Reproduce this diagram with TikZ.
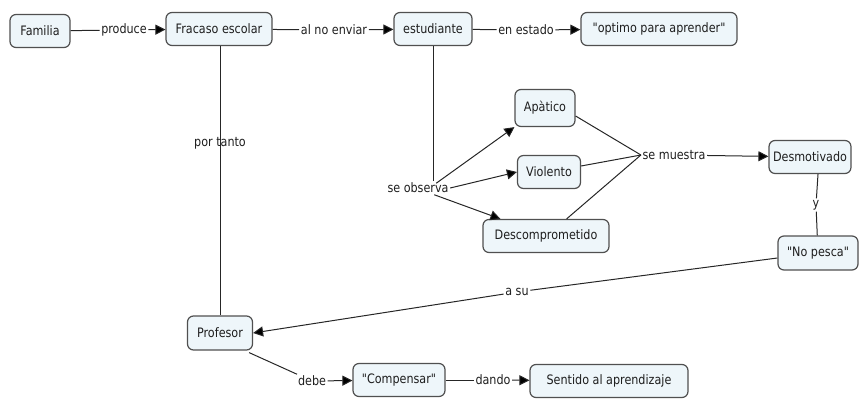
\documentclass[tikz,border=0pt]{standalone}
\usepackage{fontspec}
\setmainfont{DejaVu Sans}[FakeStretch=0.86, Ligatures=TeXOff]
\usetikzlibrary{arrows.meta}
\definecolor{boxfill}{RGB}{238,246,250}
\definecolor{boxline}{RGB}{80,80,80}
\definecolor{txt}{RGB}{30,30,30}
\begin{document}
\begin{tikzpicture}[x=1pt,y=-1pt,
  concept/.style={draw=boxline, fill=boxfill, line width=1.2pt, rounded corners=6pt,
     minimum height=33pt, inner xsep=4pt, text=txt, font=\fontsize{13}{15}\selectfont},
  lbl/.style={inner sep=1.5pt, text=txt, font=\fontsize{13}{15}\selectfont},
  conn/.style={draw=black!85, line width=1pt},
  arr/.style={conn, -{Triangle[length=10pt,width=10pt,fill=black]}}]
\useasboundingbox (0,0) rectangle (867,406);
% concepts
\node[concept, minimum width=60pt] (fam) at (40,31) {Familia};
\node[concept, minimum width=106pt] (fra) at (219,29) {Fracaso escolar};
\node[concept, minimum width=78pt] (est) at (433,29) {estudiante};
\node[concept, minimum width=156pt] (opt) at (659,29) {"optimo para aprender"};
\node[concept, minimum width=60pt, minimum height=37pt] (apa) at (545,108) {Apàtico};
\node[concept, minimum width=63pt] (vio) at (549,172) {Violento};
\node[concept, minimum width=126pt] (des) at (546,236) {Descomprometido};
\node[concept, minimum width=79pt] (dmo) at (810,157) {Desmotivado};
\node[concept, minimum width=80pt, minimum height=34pt] (np) at (818,253) {"No pesca"};
\node[concept, minimum width=65pt, minimum height=34pt] (prof) at (220,333) {Profesor};
\node[concept, minimum width=92pt] (comp) at (399,380) {"Compensar"};
\node[concept, minimum width=158pt] (sen) at (609,381) {Sentido al aprendizaje};
% linking phrases
\node[lbl] (produce) at (124,30) {produce};
\node[lbl] (alno) at (334,30) {al no enviar};
\node[lbl] (enest) at (526,30) {en estado};
\node[lbl] (portanto) at (220,143) {por tanto};
\node[lbl] (seobs) at (418,188) {se observa};
\node[lbl] (semue) at (674,155) {se muestra};
\node[lbl] (y) at (816,205) {y};
\node[lbl] (asu) at (517,292) {a su};
\node[lbl] (debe) at (312,381) {debe};
\node[lbl] (dando) at (493,380) {dando};
% helper coordinates
\coordinate (so1) at ([xshift=-14pt,yshift=-2pt]seobs.north east);
\coordinate (so3) at ([xshift=-16pt]seobs.south east);
\coordinate (de0) at ([xshift=18pt]des.north west);
\coordinate (ap1) at ([yshift=-8pt]apa.east);
\coordinate (vi1) at ([yshift=6pt]vio.east);
\coordinate (de1) at ([xshift=-43pt]des.north east);
\coordinate (dm1) at ([xshift=8pt]dmo.south);
\coordinate (np1) at ([yshift=-5pt]np.west);
\coordinate (pr1) at ([xshift=-4pt,yshift=-2pt]prof.south east);
% connectors
\draw[conn] (fam) -- (produce);
\draw[arr] (produce) -- (fra);
\draw[conn] (fra) -- (alno);
\draw[arr] (alno) -- (est);
\draw[conn] (est) -- (enest);
\draw[arr] (enest) -- (opt);
\draw[conn] (fra.south -| portanto) -- (prof.north -| portanto);
\draw[conn] (est.south) -- (est.south |- seobs.north);
\draw[arr] (so1) -- (apa.south west);
\draw[arr] (seobs.east) -- (vio.west);
\draw[arr] (so3) -- (de0);
\draw[conn] (ap1) -- (semue.west);
\draw[conn] (vi1) -- (semue.west);
\draw[conn] (de1) -- (semue.west);
\draw[arr] (semue) -- (dmo);
\draw[conn] (dm1) -- (y);
\draw[conn] (y) -- (np);
\draw[conn] (np1) -- (asu);
\draw[arr] (asu) -- (prof.east);
\draw[conn] (pr1) -- (debe);
\draw[arr] (debe) -- (comp);
\draw[conn] (comp) -- (dando);
\draw[arr] (dando) -- (sen);
\end{tikzpicture}
\end{document}
